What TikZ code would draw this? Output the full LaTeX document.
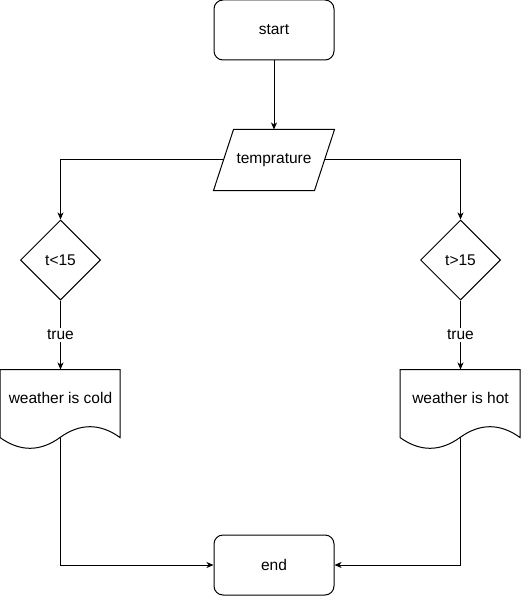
\documentclass[tikz,border=0pt]{standalone}
\usepackage{fontspec}
\setmainfont{Liberation Sans}
\usetikzlibrary{shapes.geometric,arrows.meta}
\begin{document}
\begin{tikzpicture}[x=1pt,y=-1pt,
  font=\fontsize{15.5}{18}\selectfont,
  line width=1pt,
  term/.style={draw, rounded corners=9pt, minimum width=120pt, minimum height=60pt, inner sep=0pt},
  iobox/.style={minimum width=100pt, minimum height=60pt, inner sep=0pt},
  docbox/.style={minimum width=120pt, minimum height=80pt, inner sep=0pt},
  decision/.style={draw, diamond, aspect=1, minimum width=80pt, minimum height=80pt, inner sep=0pt},
  arr/.style={-{Stealth[length=7pt,width=6pt,inset=2pt]}},
  lbl/.style={fill=white, inner sep=2pt}
]
\fill[white] (0,0) rectangle (521,596);
\useasboundingbox (0,0) rectangle (521,596);

% nodes
\node[term] (start) at (274,30) {start};
\node[iobox] (temp) at (274,160) {temprature};
\draw ([xshift=10pt]temp.north west) -- ([xshift=10pt]temp.north east)
      -- ([xshift=-10pt]temp.south east) -- ([xshift=-10pt]temp.south west) -- cycle;

\node[decision] (lt) at (60.5,260) {t<15};
\node[decision] (rt) at (460.5,260) {t>15};

\node[docbox] (cold) at (60.5,410) {};
\node (coldtxt) at ([yshift=12pt]cold.center) {weather is cold};
\draw[shift={(cold.north west)}] (0,0) -- (120,0) -- (120,68)
  .. controls (100,53.6) and (80,53.6) .. (60,68)
  .. controls (40,82.4) and (20,82.4) .. (0,68) -- cycle;
\coordinate (coldb) at ([yshift=-28pt]cold.center);

\node[docbox] (hot) at (460.5,410) {};
\node (hottxt) at ([yshift=12pt]hot.center) {weather is hot};
\draw[shift={(hot.north west)}] (0,0) -- (120,0) -- (120,68)
  .. controls (100,53.6) and (80,53.6) .. (60,68)
  .. controls (40,82.4) and (20,82.4) .. (0,68) -- cycle;
\coordinate (hotb) at ([yshift=-28pt]hot.center);

\node[term] (end) at (274,565) {end};

% connectors
\draw[arr] (start) -- (temp);
\draw[arr] (temp.west) -| (lt.north);
\draw[arr] (temp.east) -| (rt.north);
\draw[arr] (lt.south) -- node[lbl] {true} (cold.north);
\draw[arr] (rt.south) -- node[lbl] {true} (hot.north);
\draw[arr] (coldb) |- (end.west);
\draw[arr] (hotb) |- (end.east);
\end{tikzpicture}
\end{document}
